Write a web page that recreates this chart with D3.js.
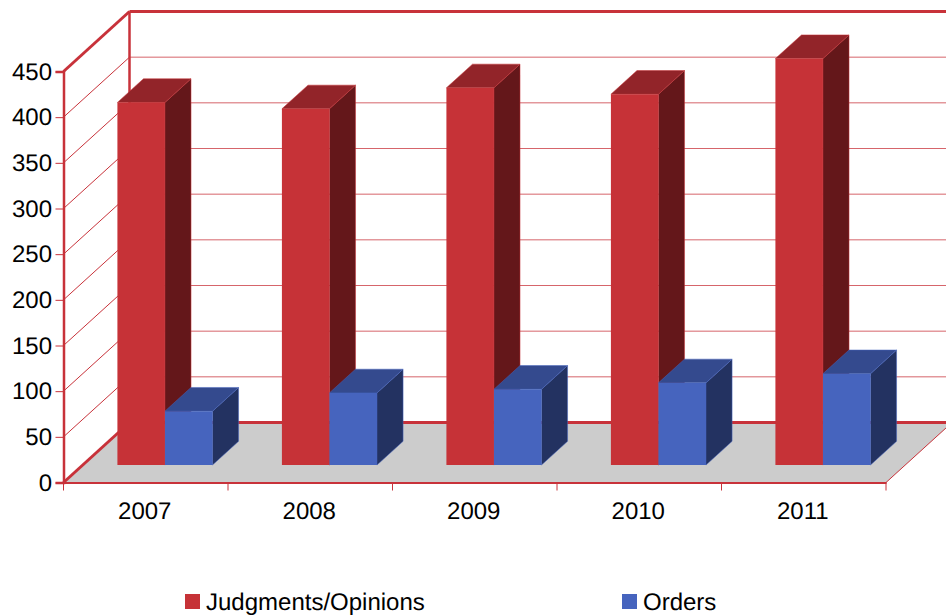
<!DOCTYPE html>
<html>
<head>
<meta charset="utf-8">
<script src="https://cdn.jsdelivr.net/npm/d3@7"></script>
<style>
  html, body { margin: 0; padding: 0; background: #fff; overflow: hidden; }
  text { font-family: "Liberation Sans", Arial, sans-serif; fill: #000; text-rendering: geometricPrecision; }
</style>
</head>
<body>
<svg id="chart" width="946" height="616"></svg>
<script>
const years = ['2007', '2008', '2009', '2010', '2011'];
const judgments = [397, 390, 413, 406, 445];
const orders = [59, 79, 83, 90, 100];
const yTicks = [0, 50, 100, 150, 200, 250, 300, 350, 400, 450];
const seriesNames = ['Judgments/Opinions', 'Orders'];

const svg = d3.select('#chart');
const RED = '#c63237', RED_TOP = '#922429', RED_SIDE = '#64171a';
const BLUE = '#4664be', BLUE_TOP = '#344a8e', BLUE_SIDE = '#233261';
const AXIS = '#c8323a';

const x = d3.scaleBand().domain(years).range([63.5, 886]).paddingInner(0).paddingOuter(0);
const y = d3.scaleLinear().domain([0, 450]).range([482.5, 71.5]);
// depth: 0 is the front edge of the floor, 1 is the back wall
const dx = d3.scaleLinear().domain([0, 1]).range([0, 66]);
const dy = d3.scaleLinear().domain([0, 1]).range([0, -60]);
const barFront = 0.291, barBack = 0.686;

const pt = (px, v, z) => [px + dx(z), y(v) + dy(z)];
const poly = (pts) => 'M' + pts.map((p) => p.join(',')).join('L') + 'Z';

const x0 = x.range()[0], x1 = x.range()[1];

// back wall + side wall grid
const grid = svg.append('g');
yTicks.slice(1).forEach((t) => {
  const a = pt(x0, t, 0), b = pt(x0, t, 1), c = pt(x1, t, 1);
  const top = t === 450;
  grid.append('path').attr('d', `M${a}L${b}`).attr('fill', 'none')
    .attr('stroke', AXIS).attr('stroke-width', top ? 3 : 1);
  grid.append('path').attr('d', `M${b}L${c}`).attr('fill', 'none')
    .attr('stroke', AXIS).attr('stroke-width', top ? 3 : 1).attr('stroke-opacity', top ? 1 : 0.75);
});

// floor
svg.append('path')
  .attr('d', poly([pt(x0, 0, 0), pt(x1, 0, 0), pt(x1, 0, 1), pt(x0, 0, 1)]))
  .attr('fill', '#cccccc');
svg.append('path').attr('d', `M${pt(x0, 0, 1)}L${pt(x1, 0, 1)}`)
  .attr('stroke', AXIS).attr('stroke-width', 3);
svg.append('path').attr('d', `M${pt(x0, 0, 0)}L${pt(x0, 0, 1)}`)
  .attr('stroke', AXIS).attr('stroke-width', 3);
svg.append('path').attr('d', `M${pt(x1, 0, 0)}L${pt(x1, 0, 1)}`)
  .attr('stroke', AXIS).attr('stroke-width', 1);

// back wall left edge
svg.append('path').attr('d', `M${pt(x0, 0, 1)}L${pt(x0, 450, 1)}`)
  .attr('stroke', AXIS).attr('stroke-width', 2.5);

// bars
const inner = d3.scaleBand().domain(seriesNames).range([0, x.bandwidth()])
  .paddingInner(0).paddingOuter(0.73);

function bar(g, year, name, value, front, top, side) {
  const l = x(year) + inner(name);
  const r = l + inner.bandwidth();
  g.append('path')
    .attr('d', poly([pt(r, 0, barFront), pt(r, 0, barBack), pt(r, value, barBack), pt(r, value, barFront)]))
    .attr('fill', side).attr('stroke', front).attr('stroke-width', 0.5);
  g.append('path')
    .attr('d', poly([pt(l, value, barFront), pt(r, value, barFront), pt(r, value, barBack), pt(l, value, barBack)]))
    .attr('fill', top).attr('stroke', front).attr('stroke-width', 0.5);
  g.append('path')
    .attr('d', poly([pt(l, 0, barFront), pt(r, 0, barFront), pt(r, value, barFront), pt(l, value, barFront)]))
    .attr('fill', front);
}

const bars = svg.append('g');
years.forEach((yr, i) => {
  bar(bars, yr, seriesNames[0], judgments[i], RED, RED_TOP, RED_SIDE);
  bar(bars, yr, seriesNames[1], orders[i], BLUE, BLUE_TOP, BLUE_SIDE);
});

// front axes
const xAxis = svg.append('g')
  .attr('transform', `translate(0,${y(0)})`)
  .call(d3.axisBottom(x).tickSizeInner(0).tickSizeOuter(0).tickPadding(19));
xAxis.select('.domain').attr('stroke', AXIS).attr('stroke-width', 2);
xAxis.selectAll('text').attr('font-size', 24).attr('dx', -1);
x.domain().concat(['end']).forEach((yr, i) => {
  const px = x0 + i * x.step();
  xAxis.append('line').attr('x1', px).attr('x2', px).attr('y1', 0).attr('y2', 8)
    .attr('stroke', AXIS).attr('stroke-width', 1);
});

const yAxis = svg.append('g')
  .attr('transform', `translate(${x0},0)`)
  .call(d3.axisLeft(y).tickValues(yTicks).tickSize(8).tickPadding(3.5));
yAxis.select('.domain').attr('stroke', AXIS).attr('stroke-width', 2.5);
yAxis.selectAll('.tick line').attr('stroke', AXIS).attr('stroke-width', 1);
yAxis.selectAll('text').attr('font-size', 24);

// legend
const legendX = d3.scaleOrdinal().domain(seriesNames).range([185, 622]);
const legendColor = d3.scaleOrdinal().domain(seriesNames).range([RED, BLUE]);
const legend = svg.append('g').selectAll('g').data(seriesNames).join('g')
  .attr('transform', (d) => `translate(${legendX(d)},594)`);
legend.append('rect').attr('width', 15).attr('height', 15).attr('fill', (d) => legendColor(d));
legend.append('text').attr('x', 21).attr('y', 16).attr('font-size', 24).text((d) => d);
</script>
</body>
</html>
